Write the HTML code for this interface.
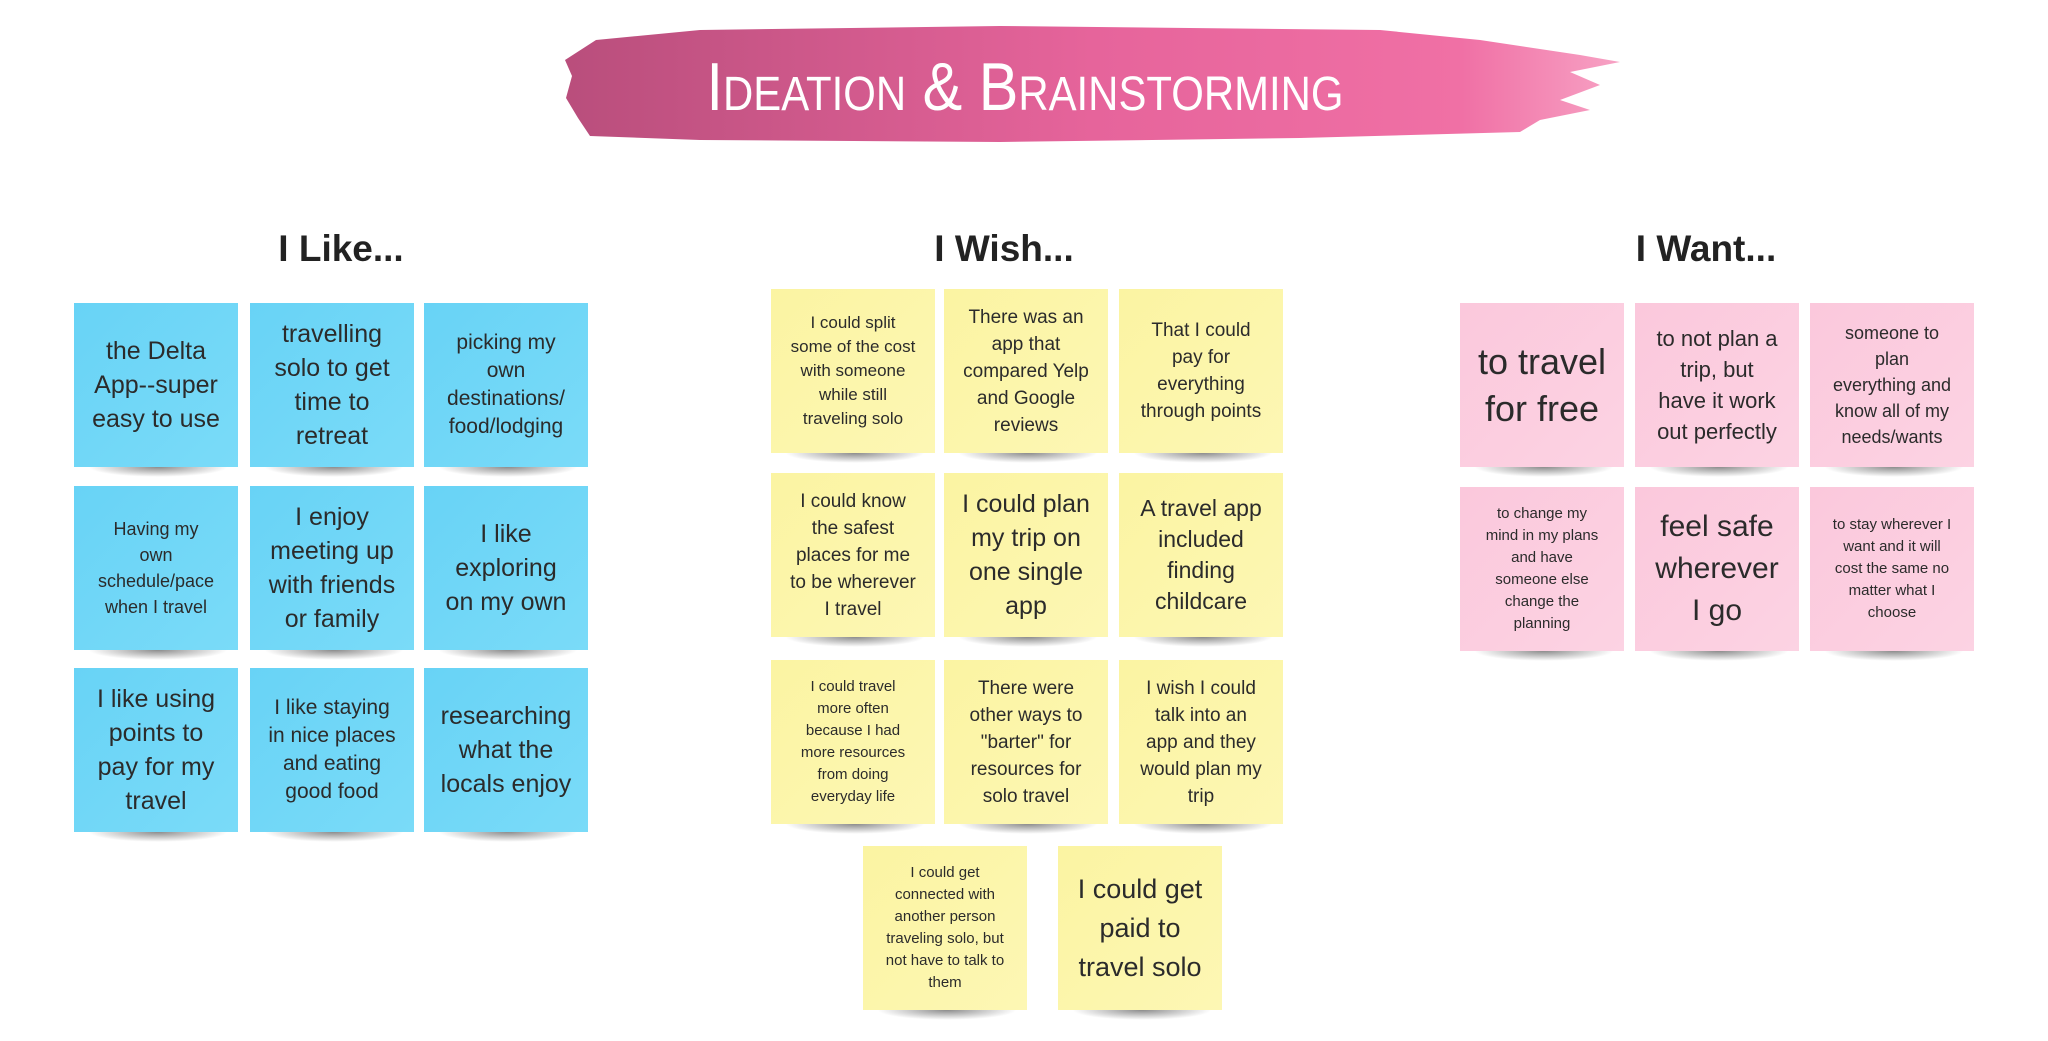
<!DOCTYPE html>
<html><head><meta charset="utf-8"><style>
html,body{margin:0;padding:0;background:#fff;}
body{width:2048px;height:1041px;position:relative;overflow:hidden;font-family:"Liberation Sans",sans-serif;}
.h{position:absolute;font-weight:bold;font-size:37px;color:#222;transform:translateX(-50%);top:228px;white-space:nowrap;}
.n{position:absolute;width:164px;height:164px;display:flex;align-items:center;justify-content:center;text-align:center;color:#2b2b2b;box-sizing:border-box;padding:4px;white-space:nowrap;}
.n::after{content:"";position:absolute;left:14px;right:10px;bottom:-10px;height:10px;background:radial-gradient(ellipse at 50% 0%,rgba(0,0,0,.45),rgba(0,0,0,0) 70%);}
.b{background:linear-gradient(135deg,#68d3f6,#7adbf8);}
.y{background:linear-gradient(135deg,#fbf4a2,#fdf7b4);}
.p{background:linear-gradient(135deg,#fbc8dc,#fcd3e3);}
</style></head><body>
<svg style="position:absolute;left:0;top:0" width="2048" height="160">
<defs><linearGradient id="g" x1="0" x2="1" y1="0" y2="0"><stop offset="0" stop-color="#b94e7c"/><stop offset=".5" stop-color="#e6649b"/><stop offset=".85" stop-color="#f070a5"/><stop offset="1" stop-color="#f7a2c4"/></linearGradient></defs>
<path d="M596 40 L700 30 L1000 26 L1380 30 L1480 40 L1580 55 L1620 62 L1570 72 L1600 85 L1560 100 L1590 110 L1540 120 L1520 132 L1300 138 L1000 142 L700 140 L590 136 L578 118 L566 98 L572 76 L565 60 Z" fill="url(#g)"/>
<text x="1025" y="110" fill="#fff" text-anchor="middle" font-family="Liberation Sans Narrow, Liberation Sans, sans-serif" font-size="68" style="font-variant:small-caps" textLength="637" lengthAdjust="spacingAndGlyphs">Ideation &amp; Brainstorming</text>
</svg>
<div class="h" style="left:341px">I Like...</div>
<div class="h" style="left:1004px">I Wish...</div>
<div class="h" style="left:1706px">I Want...</div>

<div class="n b" style="left:74px;top:303px;font-size:25px;line-height:34px">the Delta<br>App--super<br>easy to use</div>
<div class="n b" style="left:250px;top:303px;font-size:25px;line-height:34px">travelling<br>solo to get<br>time to<br>retreat</div>
<div class="n b" style="left:424px;top:303px;font-size:21px;line-height:28px">picking my<br>own<br>destinations/<br>food/lodging</div>
<div class="n b" style="left:74px;top:486px;font-size:18px;line-height:26px">Having my<br>own<br>schedule/pace<br>when I travel</div>
<div class="n b" style="left:250px;top:486px;font-size:25px;line-height:34px">I enjoy<br>meeting up<br>with friends<br>or family</div>
<div class="n b" style="left:424px;top:486px;font-size:25px;line-height:34px">I like<br>exploring<br>on my own</div>
<div class="n b" style="left:74px;top:668px;font-size:25px;line-height:34px">I like using<br>points to<br>pay for my<br>travel</div>
<div class="n b" style="left:250px;top:668px;font-size:21px;line-height:28px">I like staying<br>in nice places<br>and eating<br>good food</div>
<div class="n b" style="left:424px;top:668px;font-size:25px;line-height:34px">researching<br>what the<br>locals enjoy</div>

<div class="n y" style="left:771px;top:289px;font-size:17px;line-height:24px">I could split<br>some of the cost<br>with someone<br>while still<br>traveling solo</div>
<div class="n y" style="left:944px;top:289px;font-size:19px;line-height:27px">There was an<br>app that<br>compared Yelp<br>and Google<br>reviews</div>
<div class="n y" style="left:1119px;top:289px;font-size:19px;line-height:27px">That I could<br>pay for<br>everything<br>through points</div>
<div class="n y" style="left:771px;top:473px;font-size:19px;line-height:27px">I could know<br>the safest<br>places for me<br>to be wherever<br>I travel</div>
<div class="n y" style="left:944px;top:473px;font-size:25px;line-height:34px">I could plan<br>my trip on<br>one single<br>app</div>
<div class="n y" style="left:1119px;top:473px;font-size:23px;line-height:31px">A travel app<br>included<br>finding<br>childcare</div>
<div class="n y" style="left:771px;top:660px;font-size:15px;line-height:22px">I could travel<br>more often<br>because I had<br>more resources<br>from doing<br>everyday life</div>
<div class="n y" style="left:944px;top:660px;font-size:19px;line-height:27px">There were<br>other ways to<br>"barter" for<br>resources for<br>solo travel</div>
<div class="n y" style="left:1119px;top:660px;font-size:19px;line-height:27px">I wish I could<br>talk into an<br>app and they<br>would plan my<br>trip</div>
<div class="n y" style="left:863px;top:846px;font-size:15px;line-height:22px">I could get<br>connected with<br>another person<br>traveling solo, but<br>not have to talk to<br>them</div>
<div class="n y" style="left:1058px;top:846px;font-size:27px;line-height:39px">I could get<br>paid to<br>travel solo</div>

<div class="n p" style="left:1460px;top:303px;font-size:36px;line-height:47px">to travel<br>for free</div>
<div class="n p" style="left:1635px;top:303px;font-size:22px;line-height:31px">to not plan a<br>trip, but<br>have it work<br>out perfectly</div>
<div class="n p" style="left:1810px;top:303px;font-size:18px;line-height:26px">someone to<br>plan<br>everything and<br>know all of my<br>needs/wants</div>
<div class="n p" style="left:1460px;top:487px;font-size:15px;line-height:22px">to change my<br>mind in my plans<br>and have<br>someone else<br>change the<br>planning</div>
<div class="n p" style="left:1635px;top:487px;font-size:30px;line-height:42px">feel safe<br>wherever<br>I go</div>
<div class="n p" style="left:1810px;top:487px;font-size:15px;line-height:22px">to stay wherever I<br>want and it will<br>cost the same no<br>matter what I<br>choose</div>
</body></html>
